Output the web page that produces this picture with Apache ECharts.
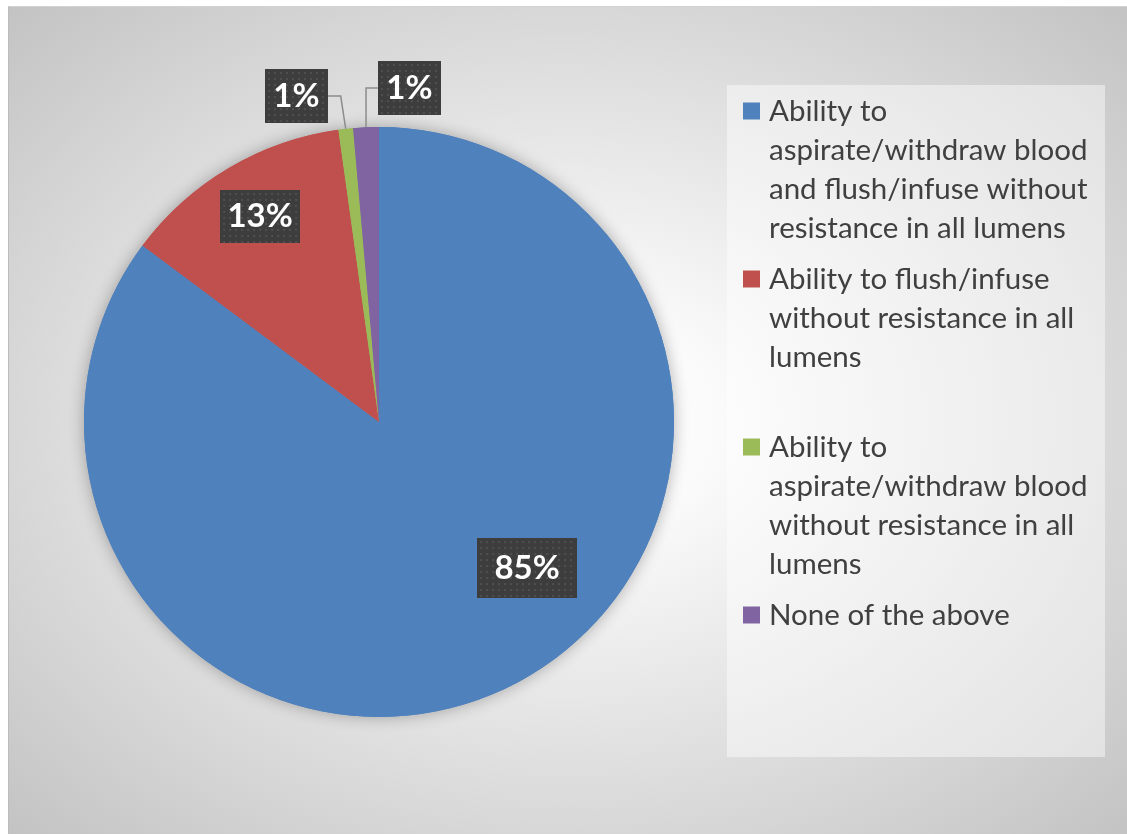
<!DOCTYPE html>
<html>
<head>
<meta charset="utf-8">
<script src="https://cdn.jsdelivr.net/npm/echarts@6/dist/echarts.min.js"></script>
<style>
  html, body { margin: 0; padding: 0; background: #ffffff; }
  #frame {
    position: absolute; left: 8px; top: 6px; width: 1119px; height: 828px;
    box-sizing: border-box;
    border-top: 1px solid #d2d2d2; border-left: 1px solid #bcbcbc;
    background: radial-gradient(ellipse farthest-corner at 50% 50%, #ffffff 0%, #fbfbfb 18%, #c3c3c3 100%);
  }
  #chart { position: absolute; left: 0; top: 0; width: 1127px; height: 834px; }
</style>
</head>
<body>
<div id="frame"></div>
<div id="chart"></div>
<script>
// Catheter lumen function at assessment (share of responses, %)
const categories = [
  'Ability to aspirate/withdraw blood and flush/infuse without resistance in all lumens',
  'Ability to flush/infuse without resistance in all lumens',
  'Ability to aspirate/withdraw blood without resistance in all lumens',
  'None of the above'
];
const shares = [85.2, 12.6, 0.8, 1.4];
const legendText = [
  'Ability to\naspirate/withdraw blood\nand flush/infuse without\nresistance in all lumens',
  'Ability to flush/infuse\nwithout resistance in all\nlumens',
  'Ability to\naspirate/withdraw blood\nwithout resistance in all\nlumens',
  'None of the above'
];
const colors = ['#4f81bd', '#c0504d', '#9bbb59', '#8064a2'];

// Pie geometry
const CENTER = [379, 422];
const RADIUS = 295;

// Label box layout: [x, y] of box centre relative to the pie centre, in radius units,
// box size, and whether the label sits outside with a leader line.
const labelBoxes = [
  { at: [0.502, 0.495],  w: 100, h: 60, outside: false },
  { at: [-0.403, -0.697], w: 80,  h: 53, outside: false },
  { at: [-0.280, -1.105], w: 63,  h: 54, outside: true, elbow: -5 },
  { at: [0.103, -1.132],  w: 63,  h: 54, outside: true, elbow: 0 }
];

// Dark dotted label background
function dottedBox(w, h) {
  const c = document.createElement('canvas');
  c.width = w; c.height = h;
  const g = c.getContext('2d');
  g.fillStyle = '#3d3d3d';
  g.fillRect(0, 0, w, h);
  g.fillStyle = '#505050';
  for (let y = 3; y < h - 1; y += 6) {
    for (let x = 3; x < w - 1; x += 6) g.fillRect(x, y, 2, 2);
  }
  return c;
}

const pieData = shares.map(function (v, i) {
  const b = labelBoxes[i];
  return {
    name: categories[i],
    value: v,
    itemStyle: { color: colors[i] },
    label: {
      position: b.outside ? 'outside' : 'inside',
      width: b.w, height: b.h, lineHeight: b.h,
      align: 'center',
      backgroundColor: { image: dottedBox(b.w, b.h) }
    },
    labelLine: { show: b.outside }
  };
});

// Legend panel
const LEG = { x: 727, y: 85, w: 378, h: 672, markX: 743, textX: 769, firstY: 111, step: 168, mark: 17, lineH: 39 };
const graphics = [{
  type: 'rect', z: -1, silent: true,
  shape: { x: LEG.x, y: LEG.y, width: LEG.w, height: LEG.h },
  style: { fill: 'rgba(255,255,255,0.45)' }
}];
categories.forEach(function (name, i) {
  const cy = LEG.firstY + LEG.step * i;
  graphics.push({
    type: 'rect', silent: true,
    shape: { x: LEG.markX, y: cy - LEG.mark / 2, width: LEG.mark, height: LEG.mark },
    style: { fill: colors[i] }
  });
  graphics.push({
    type: 'text', silent: true, x: LEG.textX, y: cy - LEG.lineH / 2,
    style: {
      text: legendText[i], fontFamily: 'Lato', fontSize: 29.5, fill: '#404040',
      lineHeight: LEG.lineH, verticalAlign: 'top', align: 'left'
    }
  });
});

const chart = echarts.init(document.getElementById('chart'), null, { renderer: 'canvas' });
chart.setOption({
  backgroundColor: 'transparent',
  animation: false,
  graphic: graphics,
  series: [
    {
      // soft halo beneath the pie
      type: 'pie', silent: true, z: 1,
      center: CENTER, radius: RADIUS, startAngle: 90, clockwise: true,
      data: shares.map(function (v, i) { return { name: categories[i], value: v, itemStyle: { color: colors[i] } }; }),
      itemStyle: { borderWidth: 0, shadowBlur: 16, shadowColor: 'rgba(0,0,0,0.3)' },
      label: { show: false }, labelLine: { show: false },
      emphasis: { disabled: true }
    },
    {
      type: 'pie', z: 2,
      center: CENTER, radius: RADIUS, startAngle: 90, clockwise: true,
      percentPrecision: 0,
      avoidLabelOverlap: false,
      data: pieData,
      itemStyle: { borderWidth: 0 },
      emphasis: { disabled: true },
      label: {
        show: true,
        formatter: '{d}%',
        color: '#ffffff',
        fontFamily: 'Lato',
        fontWeight: 'bold',
        fontSize: 33,
        shadowBlur: 6,
        shadowOffsetX: 4,
        shadowOffsetY: 4,
        shadowColor: 'rgba(0,0,0,0.45)'
      },
      labelLine: {
        show: true,
        lineStyle: { color: '#8c8c8c', width: 1.5 }
      },
      labelLayout: function (p) {
        const b = labelBoxes[p.dataIndex];
        const x = CENTER[0] + b.at[0] * RADIUS;
        const y = CENTER[1] + b.at[1] * RADIUS;
        const out = { x: x, y: y, align: 'center', verticalAlign: 'middle' };
        if (b.outside && p.labelLinePoints) {
          const s = p.labelLinePoints[0];
          const side = x < s[0] ? -1 : 1;
          out.labelLinePoints = [
            [s[0], s[1]],
            [s[0] + b.elbow, y],
            [x - side * b.w / 2, y]
          ];
        }
        return out;
      }
    }
  ]
});
</script>
</body>
</html>
